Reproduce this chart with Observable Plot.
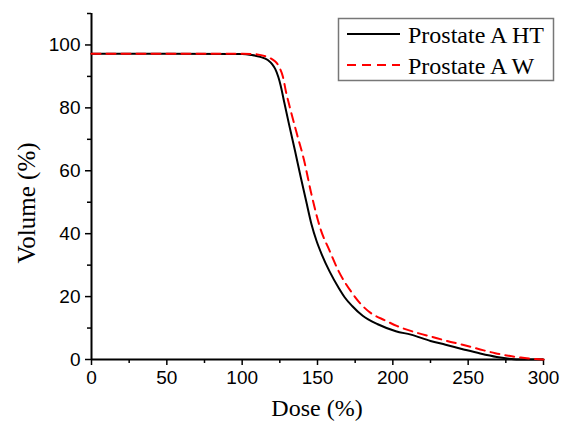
<!DOCTYPE html>
<html>
<head>
<meta charset="utf-8">
<script src="https://cdn.jsdelivr.net/npm/d3@7"></script>
<script src="https://cdn.jsdelivr.net/npm/@observablehq/plot@0.6"></script>
<style>
  html, body { margin: 0; padding: 0; background: #fff; }
  #chart svg { display: block; }
</style>
</head>
<body>
<div id="chart"></div>
<script>
// ---- data ----
const seriesNames = ["Prostate A HT", "Prostate A W"];
const doseHT = [0, 50, 100, 106, 112, 117, 120, 122, 124, 125.5, 128, 131, 135, 139, 142.5, 146, 149.5, 153, 158, 164, 168, 173, 180, 190, 202, 212, 225, 235, 247, 258, 269, 276, 282, 300];
const volHT  = [97.2, 97.2, 97.1, 96.8, 96.2, 95.2, 93.8, 92.3, 89.8, 87.2, 81.6, 75.0, 66.5, 57.7, 50.3, 43.0, 37.5, 33.2, 28.0, 22.8, 19.8, 17.0, 13.9, 11.2, 9.0, 7.9, 5.9, 4.7, 3.2, 1.9, 0.8, 0.3, 0, 0];
const doseW  = [0, 50, 100, 110, 116, 120, 123, 125, 127, 129, 132, 136, 141, 146, 152, 158, 164, 172, 180, 185, 195, 203, 216, 226, 236, 247, 258, 268, 278, 285, 291, 300];
const volW   = [97.2, 97.2, 97.2, 97.0, 96.3, 95.4, 94.2, 92.6, 90.0, 85.3, 79.5, 72.3, 63.5, 52.5, 41.5, 34.6, 28.1, 21.8, 17.0, 14.9, 12.4, 10.6, 8.5, 7.2, 5.9, 4.6, 3.2, 2.0, 1.1, 0.6, 0.3, 0];
const xMajor = [0, 50, 100, 150, 200, 250, 300];
const xMinor = [25, 75, 125, 175, 225, 275];
const yMajor = [0, 20, 40, 60, 80, 100];
const yMinor = [10, 30, 50, 70, 90, 110];
const xTitle = "Dose (%)";
const yTitle = "Volume (%)";

const ht = doseHT.map((d, i) => ({dose: d, vol: volHT[i]}));
const w  = doseW.map((d, i) => ({dose: d, vol: volW[i]}));

const sans = "'Liberation Sans', Arial, sans-serif";
const serif = "'Liberation Serif', 'Times New Roman', serif";

const plot = Plot.plot({
  width: 561,
  height: 425,
  marginLeft: 91,
  marginRight: 18,
  marginTop: 13,
  marginBottom: 66,
  style: {fontFamily: sans, fontSize: "19px", color: "#000", background: "#fff"},
  x: {domain: [0, 300]},
  y: {domain: [0, 110]},
  marks: [
    Plot.axisX({ticks: xMajor, tickSize: 6, tickPadding: 5, label: null, fontSize: 19, strokeWidth: 1.5, tickFormat: d => String(d)}),
    Plot.axisX({ticks: xMinor, tickSize: 4, text: null, label: null, strokeWidth: 1.5}),
    Plot.axisY({ticks: yMajor, tickSize: 6, tickPadding: 5, label: null, fontSize: 19, strokeWidth: 1.5, tickFormat: d => String(d)}),
    Plot.axisY({ticks: yMinor, tickSize: 4, text: null, label: null, strokeWidth: 1.5}),
    Plot.ruleY([0], {strokeWidth: 2, stroke: "#000"}),
    Plot.ruleX([0], {strokeWidth: 2, stroke: "#000"}),
    Plot.line(ht, {x: "dose", y: "vol", stroke: "#000", strokeWidth: 2, curve: "monotone-x"}),
    Plot.line(w, {x: "dose", y: "vol", stroke: "#ff0000", strokeWidth: 2, strokeDasharray: "9,6", curve: "monotone-x"})
  ]
});

const svg = d3.select(plot);
const xs = plot.scale("x");
const xMid = (xs.range[0] + xs.range[1]) / 2;

// axis titles
svg.append("text")
  .attr("x", xMid).attr("y", 416)
  .attr("text-anchor", "middle")
  .attr("font-family", serif).attr("font-size", 24).attr("fill", "#000")
  .text(xTitle);
svg.append("text")
  .attr("transform", "translate(35,203) rotate(-90)")
  .attr("text-anchor", "middle")
  .attr("font-family", serif).attr("font-size", 25).attr("fill", "#000")
  .text(yTitle);

// legend
const lg = svg.append("g");
lg.append("rect").attr("x", 338.5).attr("y", 18.5).attr("width", 215).attr("height", 62)
  .attr("fill", "#fff").attr("stroke", "#777").attr("stroke-width", 1.5);
const rows = [
  {name: seriesNames[0], stroke: "#000", dash: null, y: 34},
  {name: seriesNames[1], stroke: "#ff0000", dash: "9,6", y: 65}
];
rows.forEach(r => {
  lg.append("line").attr("x1", 347).attr("x2", 400).attr("y1", r.y).attr("y2", r.y)
    .attr("stroke", r.stroke).attr("stroke-width", 2).attr("stroke-dasharray", r.dash);
  lg.append("text").attr("x", 408).attr("y", r.y + 8.5)
    .attr("text-anchor", "start")
    .attr("font-family", serif).attr("font-size", 24).attr("fill", "#000")
    .text(r.name);
});

document.getElementById("chart").appendChild(plot);
</script>
</body>
</html>
